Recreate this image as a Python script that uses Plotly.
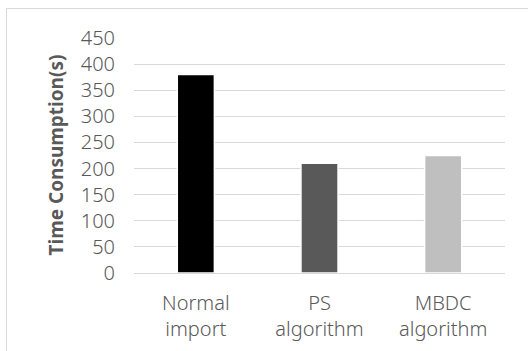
import plotly.graph_objects as go

categories = ["Normal<br>import", "PS<br>algorithm", "MBDC<br>algorithm"]
values = [380, 210, 225]
colors = ["#000000", "#595959", "#bfbfbf"]
y_ticks = [0, 50, 100, 150, 200, 250, 300, 350, 400, 450]

W, H = 528, 351
L, R, T, B = 134, 23, 38, 78
pw, ph = W - L - R, H - T - B

fig = go.Figure(go.Bar(
    x=categories, y=values,
    marker=dict(color=colors, line=dict(color="white", width=1.5)),
))

font_fam = "Noto Sans"
fig.update_layout(
    width=W, height=H,
    margin=dict(l=L, r=R, t=T, b=B, autoexpand=False),
    paper_bgcolor="white", plot_bgcolor="white",
    bargap=0.7,
    showlegend=False,
    font=dict(family=font_fam, color="#595959"),
    xaxis=dict(
        tickfont=dict(size=20, family=font_fam, color="#595959", weight=300),
        showgrid=False, showline=True, linecolor="#d9d9d9", linewidth=1,
        ticks="", ticklabelstandoff=12, automargin=False,
    ),
    yaxis=dict(
        range=[0, 450], tickvals=y_ticks,
        tickfont=dict(size=20, family=font_fam, color="#595959", weight=300),
        showgrid=True, gridcolor="#d9d9d9", gridwidth=1,
        zeroline=False, showline=False, ticks="", ticklabelstandoff=18,
        automargin=False,
    ),
    annotations=[dict(
        text="<b>Time Consumption(s)</b>", textangle=-90,
        xref="paper", yref="paper", x=(55 - L) / pw, y=0.5,
        xanchor="center", yanchor="middle", showarrow=False,
        font=dict(size=19, family=font_fam, color="#595959"),
    )],
    shapes=[
        dict(type="line", xref="paper", yref="paper",
             x0=(6.5 - L) / pw, x1=(6.5 - L) / pw, y0=-1, y1=(H - B - 8.5) / ph,
             line=dict(color="#d9d9d9", width=1)),
        dict(type="line", xref="paper", yref="paper",
             x0=(6.5 - L) / pw, x1=2, y0=(H - B - 8.5) / ph, y1=(H - B - 8.5) / ph,
             line=dict(color="#d9d9d9", width=1)),
    ],
)

fig.write_html("out.html", config={"displayModeBar": False},
               post_script="document.body.style.margin='0';")
